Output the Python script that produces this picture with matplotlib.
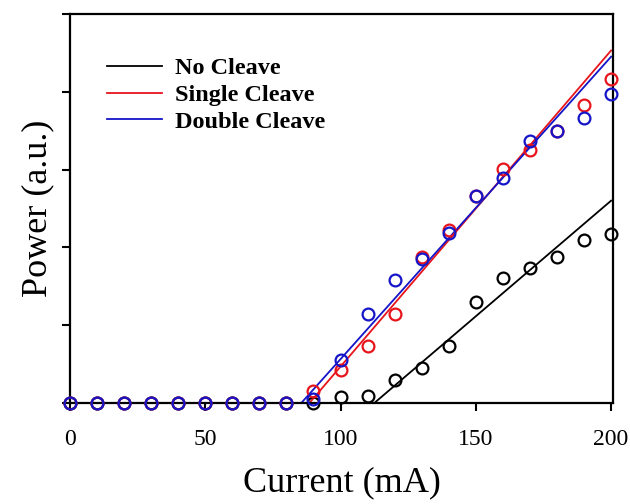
import numpy as np
import matplotlib
matplotlib.use("Agg")
import matplotlib.pyplot as plt

plt.rcParams['font.family'] = ['Liberation Serif', 'DejaVu Serif']

# Corrente (mA) e potência medida para cada amostra
corrente = np.arange(0, 201, 10)
sem_clivagem = [0, 0, 0, 0, 0, 0, 0, 0, 0, 0, 0.08, 0.09, 0.30, 0.45, 0.73,
                1.30, 1.61, 1.73, 1.88, 2.09, 2.17]
clivagem_simples = [0, 0, 0, 0, 0, 0, 0, 0, 0, 0.16, 0.43, 0.73, 1.15, 1.88, 2.22,
                    2.66, 3.01, 3.25, 3.50, 3.83, 4.16]
clivagem_dupla = [0, 0, 0, 0, 0, 0, 0, 0, 0, 0.05, 0.55, 1.15, 1.58, 1.85, 2.18,
                  2.66, 2.89, 3.37, 3.50, 3.66, 3.97]

nomes = ["No Cleave", "Single Cleave", "Double Cleave"]
cores = ["black", "#e8141c", "#1414c8"]

# Ajuste linear: limiar (mA), potência em 200 mA, fim da linha de base
limiar = [112.5, 88.5, 85.5]
potencia_200 = [2.60, 4.53, 4.45]
fim_base = [112.5, 114.0, 85.5]

series = [sem_clivagem, clivagem_simples, clivagem_dupla]

fig = plt.figure(figsize=(6.3, 5.04), dpi=100)
ax = fig.add_axes([0.111, 0.2004, 0.862, 0.772])

for dados, nome, cor, th, p200, fb in zip(series, nomes, cores, limiar, potencia_200, fim_base):
    ax.plot([0, fb], [0, 0], color=cor, lw=1.3)
    ax.plot([th, 200], [0, p200], color=cor, lw=1.3, label=nome)
    ax.plot(corrente, dados, 'o', mfc='none', mec=cor, ms=8.5, mew=1.6,
            clip_on=False, zorder=3)

ax.set_xlim(0, 200.7)
ax.set_ylim(0, 5)
ax.set_xticks([0, 50, 100, 150, 200])
ax.set_yticks(np.arange(0, 6, 1))
ax.set_yticklabels([])
ax.tick_params(direction='out', length=5.5, width=1.5, labelsize=17, pad=13)
for s in ax.spines.values():
    s.set_linewidth(1.6)

ax.set_xlabel('Current (mA)', fontsize=26, labelpad=12)
ax.set_ylabel('Power (a.u.)', fontsize=26, labelpad=-7)

leg = ax.legend(loc='upper left', bbox_to_anchor=(0.028, 0.945), frameon=False,
                prop={'weight': 'bold', 'size': 17.5}, handlelength=2.25,
                handletextpad=0.55, labelspacing=0.2)

fig.savefig('out.png', dpi=100)
